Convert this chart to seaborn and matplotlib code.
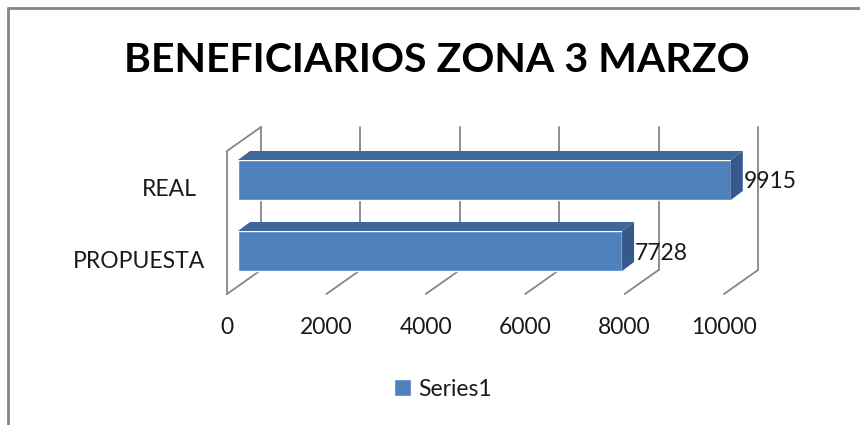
import matplotlib.pyplot as plt
import seaborn as sns
from matplotlib.patches import Polygon
from matplotlib.lines import Line2D

# datos del grafico
categorias = ["REAL", "PROPUESTA"]
beneficiarios = [9915, 7728]
ticks_x = [0, 2000, 4000, 6000, 8000, 10000]
serie = "Series1"
titulo = "BENEFICIARIOS ZONA 3 MARZO"

azul = "#4F81BD"
azul_top = "#3E6899"
azul_lado = "#34598A"
gris = "#868686"
texto = "#1a1a1a"

sns.set_theme(style="white")
plt.rcParams['font.family'] = ['Lato', 'DejaVu Sans']

W, H = 860, 425
fig = plt.figure(figsize=(W / 100, H / 100), dpi=100)
ax = fig.add_axes([0, 0, 1, 1])

# escala: pixel x = x0 + valor*kx ; pixel y (desde arriba) = y0 + fila*ky
x0, kx = 238, 0.0497
y0, ky = 180, 71

sns.barplot(x=beneficiarios, y=categorias, orient="h", color=azul, width=40 / ky,
            saturation=1, label=serie, ax=ax, zorder=3)
ax.set_xlim(-x0 / kx, (W - x0) / kx)
ax.set_ylim((H - y0) / ky, -y0 / ky)
ax.axis("off")

# pared del fondo y piso (perspectiva)
atras_x = 23 / kx
frente_x = -11 / kx
y_sup = (127 - y0) / ky
y_inf = (270 - y0) / ky
y_piso = (294 - y0) / ky
for v in ticks_x:
    ax.plot([v + atras_x, v + atras_x], [y_sup, y_inf], color=gris, lw=1.3, zorder=1)
    ax.plot([v + atras_x, v + frente_x], [y_inf, y_piso], color=gris, lw=1.3, zorder=1)
    ax.text(v + frente_x, (327 - y0) / ky, f"{v}", ha="center", va="center",
            fontsize=16.5, color=texto)
# pared izquierda
ax.plot([atras_x, frente_x, frente_x], [y_sup, (151 - y0) / ky, y_piso],
        color=gris, lw=1.3, zorder=1)

# caras superior y lateral de las barras
prof_x = 12 / kx
prof_y = -9 / ky
for p, v in zip(ax.patches, beneficiarios):
    bx, by = p.get_x(), p.get_y()
    bw, bh = p.get_width(), p.get_height()
    arriba = Polygon([(bx, by), (bx + bw, by), (bx + bw + prof_x, by + prof_y),
                      (bx + prof_x, by + prof_y)], closed=True,
                     facecolor=azul_top, edgecolor="none", zorder=3)
    lado = Polygon([(bx + bw, by), (bx + bw + prof_x, by + prof_y),
                    (bx + bw + prof_x, by + bh + prof_y), (bx + bw, by + bh)],
                   closed=True, facecolor=azul_lado, edgecolor="none", zorder=3)
    ax.add_patch(arriba)
    ax.add_patch(lado)
    ax.text(bx + bw + 13 / kx, by + bh / 2 + 2 / ky, f"{v}", ha="left", va="center",
            fontsize=16.5, color=texto, zorder=4)

# etiquetas de categorias
for i, cat in enumerate(categorias):
    ax.text((197 + 8 * i - x0) / kx, i + 10 / ky, cat, ha="right", va="center",
            fontsize=16.5, color=texto)

fig.text(437 / W, 1 - 61 / H, titulo, ha="center", va="center",
         fontsize=29.5, fontweight="bold", color="black")

ax.legend(loc="center", bbox_to_anchor=(443 / W, 1 - 389 / H), frameon=False,
          fontsize=16.5, handlelength=0.75, handleheight=0.75, handletextpad=0.3,
          labelcolor=texto)

# borde del grafico
fig.add_artist(Line2D([8 / W, 8 / W], [0, 1 - 8 / H], color=gris, lw=2))
fig.add_artist(Line2D([8 / W, 1], [1 - 8 / H, 1 - 8 / H], color=gris, lw=2))

fig.savefig("out.png", dpi=100)
